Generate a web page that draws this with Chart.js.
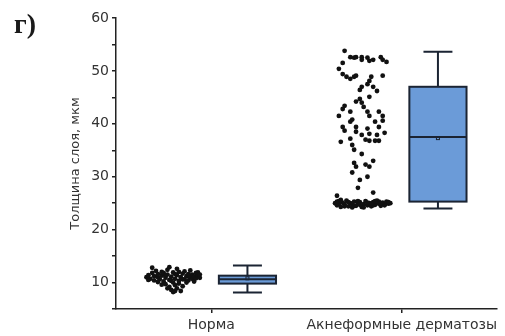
<!DOCTYPE html>
<html><head><meta charset="utf-8">
<script src="https://cdn.jsdelivr.net/npm/chart.js@4/dist/chart.umd.min.js"></script>
<style>
html,body{margin:0;padding:0;background:#fff;width:505px;height:336px;overflow:hidden}
#wrap{position:relative;width:505px;height:336px}
#lbl{position:absolute;left:14px;top:10px;font:bold 28px "Liberation Serif",serif;line-height:1;color:#1a1a1a}
</style></head>
<body><div id="wrap"><canvas id="c" width="505" height="336"></canvas><div id="lbl">г)</div></div>
<script>
const categories = ['Норма', 'Акнеформные дерматозы'];
const yTitle = 'Толщина слоя, мкм';

// raw points: horizontal jitter (category units) and value (мкм)
const normaJitter = [-0.34,-0.33,-0.32,-0.31,-0.31,-0.30,-0.30,-0.29,-0.28,-0.28,-0.27,-0.26,-0.26,-0.25,-0.25,-0.24,-0.24,-0.23,-0.23,-0.22,-0.22,-0.21,-0.21,-0.20,-0.20,-0.20,-0.19,-0.19,-0.18,-0.18,-0.18,-0.17,-0.17,-0.16,-0.16,-0.15,-0.15,-0.14,-0.14,-0.13,-0.13,-0.12,-0.12,-0.11,-0.11,-0.10,-0.10,-0.09,-0.09,-0.08,-0.08,-0.07,-0.07,-0.06,-0.06,-0.28,-0.33,-0.26,-0.22,-0.17,-0.24,-0.19,-0.15,-0.12,-0.21,-0.23,-0.19];
const normaValues = [11.0,11.4,10.7,11.8,12.8,11.2,10.4,12.2,11.0,11.6,10.6,11.3,12.0,10.2,11.8,10.9,9.7,11.5,12.4,10.5,9.2,11.1,8.6,10.0,11.9,8.2,10.7,9.5,11.4,8.9,12.6,10.3,9.8,11.0,8.4,11.7,9.3,10.6,12.1,11.2,10.0,11.6,10.4,11.0,12.3,10.7,11.5,11.1,10.2,11.8,10.8,11.3,11.9,10.9,11.5,10.1,10.5,9.6,12.9,12.0,11.4,11.6,10.6,11.3,10.3,8.9,8.4];

const akneJitter = [-0.30,-0.27,-0.25,-0.24,-0.21,-0.21,-0.18,-0.17,-0.15,-0.11,-0.10,-0.08,-0.31,-0.33,-0.31,-0.29,-0.27,-0.25,-0.24,-0.16,-0.10,-0.17,-0.18,-0.21,-0.22,-0.15,-0.13,-0.22,-0.17,-0.24,-0.21,-0.30,-0.31,-0.20,-0.27,-0.18,-0.12,-0.33,-0.17,-0.10,-0.26,-0.27,-0.14,-0.10,-0.31,-0.24,-0.18,-0.12,-0.30,-0.24,-0.21,-0.17,-0.13,-0.09,-0.32,-0.27,-0.19,-0.17,-0.14,-0.12,-0.26,-0.25,-0.21,-0.25,-0.24,-0.19,-0.15,-0.17,-0.26,-0.18,-0.22,-0.23,-0.15,-0.34,
  -0.35,-0.34,-0.33,-0.32,-0.31,-0.30,-0.29,-0.28,-0.27,-0.26,-0.25,-0.24,-0.23,-0.22,-0.21,-0.20,-0.19,-0.18,-0.17,-0.16,-0.15,-0.14,-0.13,-0.12,-0.11,-0.10,-0.09,-0.08,-0.07,-0.06,-0.33,-0.30,-0.28,-0.25,-0.23,-0.20,-0.18,-0.15,-0.12,-0.09,-0.07,-0.34,-0.26,-0.22,-0.16,-0.11,-0.32,-0.14];
const akneValues = [53.8,52.6,52.5,52.6,52.6,52.1,52.5,51.9,52.1,52.6,52.1,51.7,51.5,50.4,49.4,48.9,48.5,48.9,49.1,48.9,49.1,48.1,47.5,47.0,46.4,47.0,46.2,44.7,45.1,44.2,44.0,43.4,42.8,43.2,42.3,42.3,42.3,41.5,41.5,41.5,40.8,40.4,40.4,40.6,39.4,39.4,39.1,39.4,38.7,38.5,37.9,38.1,37.9,38.3,36.6,37.2,37.0,36.8,36.8,36.8,36.0,35.1,34.3,32.6,31.9,32.3,33.0,31.9,30.8,30.0,29.4,27.9,27.0,26.4,
  25.0,24.6,25.4,24.3,25.1,24.8,25.5,24.4,25.0,24.7,25.3,24.5,24.9,25.2,24.3,24.8,25.4,24.6,25.0,24.4,25.2,24.7,25.5,24.9,24.5,25.1,24.8,25.3,24.9,25.0,24.9,24.4,25.2,24.5,25.4,24.2,25.1,24.6,25.3,24.6,25.2,25.3,24.2,24.7,24.9,25.0,25.6,25.4];

// box statistics per category
const boxMin    = [8.1, 24.0];
const boxQ1     = [9.8, 25.3];
const boxMedian = [10.6, 37.5];
const boxQ3     = [11.3, 47.0];
const boxMax    = [13.2, 53.6];
const boxMean   = [10.8, 37.3];

const BOX_OFFSET = 0.19, BOX_HALF = 0.15, CAP_HALF = 0.076;

const normaPts = normaValues.map((v,i)=>({x:1+normaJitter[i], y:v}));
const aknePts  = akneValues.map((v,i)=>({x:2+akneJitter[i], y:v}));

const boxPlugin = {
  id:'boxes',
  afterDatasetsDraw(chart){
    const {ctx, scales:{x,y}} = chart;
    ctx.save();
    categories.forEach((c,i)=>{
      const cx = x.getPixelForValue(i+1+BOX_OFFSET);
      const l = x.getPixelForValue(i+1+BOX_OFFSET-BOX_HALF);
      const r = x.getPixelForValue(i+1+BOX_OFFSET+BOX_HALF);
      const cl = x.getPixelForValue(i+1+BOX_OFFSET-CAP_HALF);
      const cr = x.getPixelForValue(i+1+BOX_OFFSET+CAP_HALF);
      const yMin=y.getPixelForValue(boxMin[i]), yQ1=y.getPixelForValue(boxQ1[i]),
            yMed=y.getPixelForValue(boxMedian[i]), yQ3=y.getPixelForValue(boxQ3[i]),
            yMax=y.getPixelForValue(boxMax[i]), yMean=y.getPixelForValue(boxMean[i]);
      ctx.strokeStyle='#1b2433'; ctx.lineWidth=2;
      ctx.beginPath();
      ctx.moveTo(cx,yQ3); ctx.lineTo(cx,yMax);
      ctx.moveTo(cl,yMax); ctx.lineTo(cr,yMax);
      ctx.moveTo(cx,yQ1); ctx.lineTo(cx,yMin);
      ctx.moveTo(cl,yMin); ctx.lineTo(cr,yMin);
      ctx.stroke();
      ctx.fillStyle='#6b9bd8';
      ctx.fillRect(l,yQ3,r-l,yQ1-yQ3);
      ctx.strokeRect(l,yQ3,r-l,yQ1-yQ3);
      ctx.beginPath(); ctx.moveTo(l,yMed); ctx.lineTo(r,yMed); ctx.stroke();
      ctx.lineWidth=1;
      ctx.strokeRect(cx-1.5,yMean-1.5,3,3);
    });
    ctx.restore();
  }
};

new Chart(document.getElementById('c'), {
  type:'scatter',
  data:{datasets:[
    {data:normaPts, pointRadius:2.4, pointBackgroundColor:'#111', pointBorderWidth:0},
    {data:aknePts, pointRadius:2.4, pointBackgroundColor:'#111', pointBorderWidth:0}
  ]},
  options:{
    responsive:false, animation:false, devicePixelRatio:1,
    layout:{padding:{left:62,right:8,top:18,bottom:0}},
    plugins:{legend:{display:false}, tooltip:{enabled:false}},
    scales:{
      x:{type:'linear', min:0.5, max:2.5,
        afterBuildTicks:s=>{s.ticks=[{value:1},{value:2}];},
        afterFit:s=>{s.height=27;},
        ticks:{autoSkip:false, maxRotation:0, padding:4, color:'#333',
          font:{family:'"DejaVu Sans", sans-serif', size:14},
          callback:v=>categories[Math.round(v)-1]},
        grid:{drawOnChartArea:false, drawTicks:true, tickLength:4, color:'#222', lineWidth:1.5},
        border:{display:true, color:'#222', width:1.5}
      },
      y:{min:5, max:60,
        afterFit:s=>{s.width=54;},
        ticks:{stepSize:5, padding:3, color:'#333',
          font:{family:'"DejaVu Sans", sans-serif', size:14},
          callback:v=>(v%10===0 ? v : '')},
        grid:{drawOnChartArea:false, drawTicks:true, tickLength:4, color:'#222', lineWidth:1.5},
        border:{display:true, color:'#222', width:1.5},
        title:{display:true, text:yTitle, color:'#333', padding:{top:6,bottom:0},
          font:{family:'"DejaVu Sans", sans-serif', size:13}}
      }
    }
  },
  plugins:[boxPlugin]
});
</script>
</body></html>
